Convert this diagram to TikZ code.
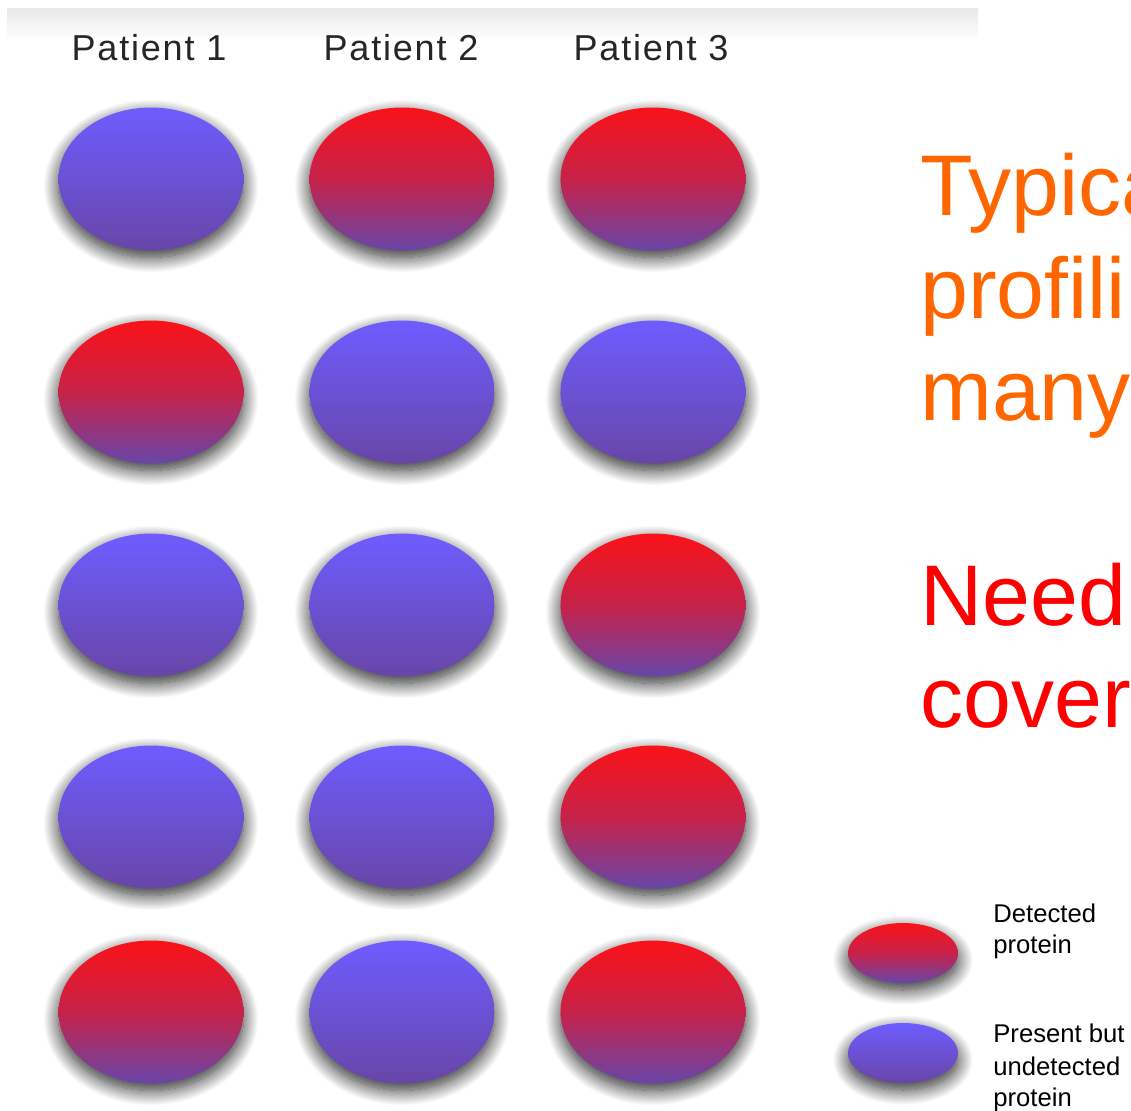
\documentclass[tikz,border=0pt]{standalone}
\usepackage{fontspec}
\setmainfont{Liberation Sans}
\newfontfamily\patfont[LetterSpace=5]{Liberation Sans}
\usetikzlibrary{shapes.geometric,shadows.blur}
\definecolor{hitred}{RGB}{250,18,24}
\definecolor{hitmid}{RGB}{198,34,74}
\definecolor{missblue}{RGB}{110,92,255}
\definecolor{missdark}{RGB}{104,70,168}
\definecolor{typorange}{RGB}{255,102,0}
\begin{document}
\begin{tikzpicture}[x=0.02cm, y=-0.02cm,
  prot/.style={ellipse, inner sep=0pt, minimum width=3.7cm, minimum height=2.86cm,
    blur shadow={shadow xshift=0pt, shadow yshift=-0.14cm, shadow blur radius=0.3cm,
      shadow blur steps=20, shadow opacity=85}},
  detected/.style={prot, top color=hitred, bottom color=missdark, middle color=hitmid},
  undetected/.style={prot, top color=missblue, bottom color=missdark},
  small/.style={minimum width=2.2cm, minimum height=1.2cm},
  lbl/.style={anchor=base, inner sep=0pt, text=black!85, font=\patfont\fontsize{20.5}{24}\selectfont},
  big/.style={anchor=base west, inner sep=0pt, font=\fontsize{49}{58}\selectfont},
  key/.style={anchor=base west, inner sep=0pt, font=\fontsize{14.6}{17}\selectfont}]

 \useasboundingbox (0,0) rectangle (1131,1110);
 \clip (0,0) rectangle (1131,1110);

 % slide top
 \shade[top color=black!9, bottom color=white] (7,8) rectangle (978,40);

 \foreach \i/\x in {1/149, 2/401, 3/651}
   \node[lbl] (pat\i) at (\x, 60) {Patient \i};

 % proteins per row
 \foreach \r/\y/\ka/\kb/\kc in {1/179/undetected/detected/detected,
                               2/392/detected/undetected/undetected,
                               3/605/undetected/undetected/detected,
                               4/817/undetected/undetected/detected,
                               5/1012/detected/undetected/detected} {
   \node[\ka] (p1-\r) at (151,\y) {};
   \node[\kb] (p2-\r) at (402,\y) {};
   \node[\kc] (p3-\r) at (653,\y) {};
 }

 % message
 \foreach \i/\y/\name in {1/215/Typica, 2/318/profilin, 3/420/many}
   \node[big, typorange] (msg\i) at (920,\y) {\name};
 \foreach \i/\y/\name in {1/625/Need, 2/727/cover}
   \node[big, red] (need\i) at (920,\y) {\name};

 % legend
 \node[detected, small] (keyhit) at (903,953) {};
 \node[undetected, small] (keymiss) at (903,1053) {};
 \foreach \i/\y/\name in {1/922/Detected, 2/953/protein, 3/1042/Present but, 4/1075/undetected, 5/1106/protein}
   \node[key] (key\i) at (993,\y) {\name};

\end{tikzpicture}
\end{document}
